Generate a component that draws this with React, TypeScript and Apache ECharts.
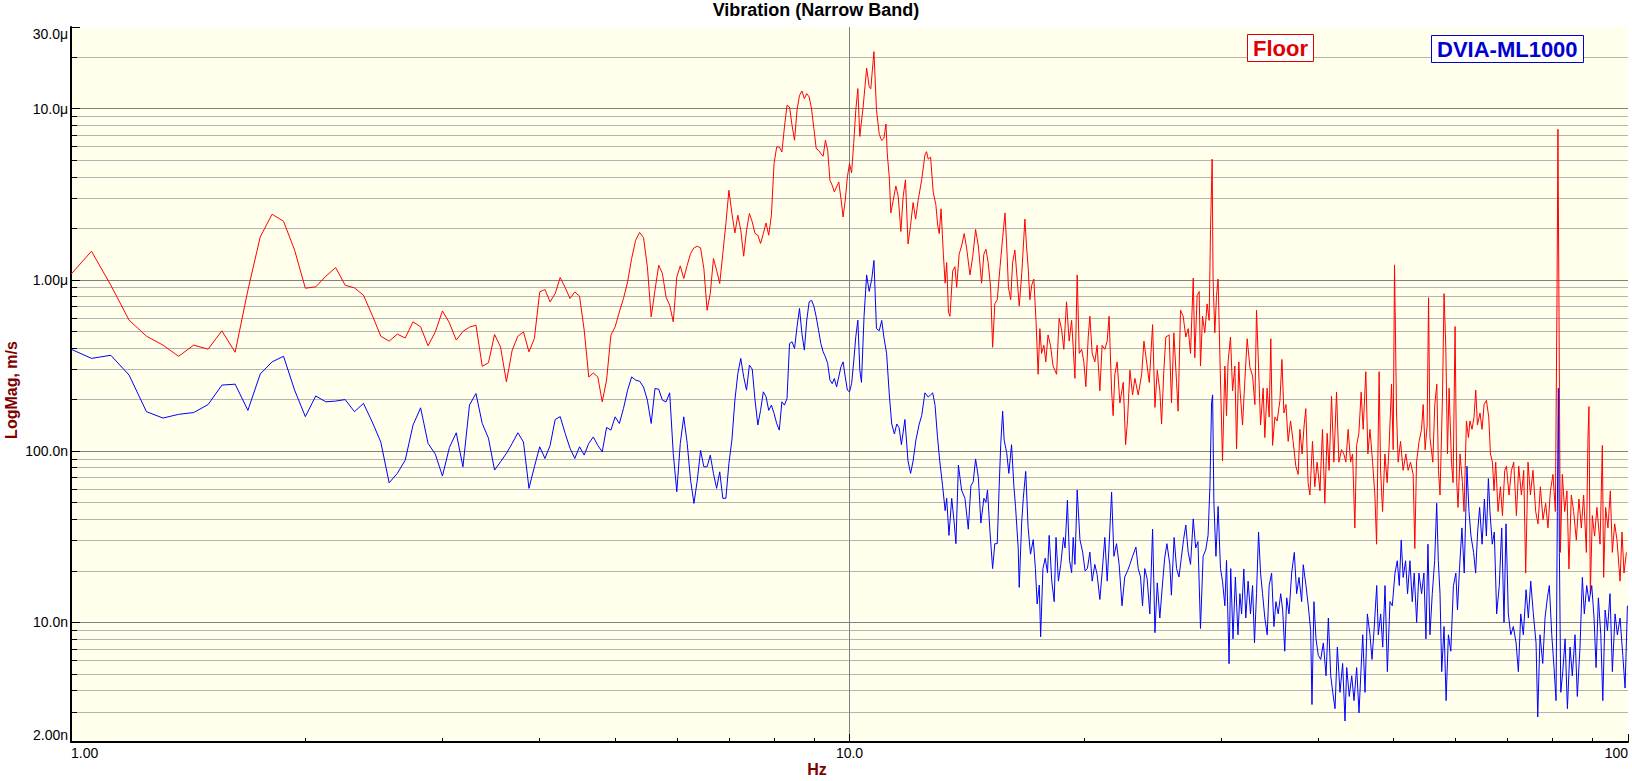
import React, { useEffect, useRef } from 'react';
import * as echarts from 'echarts';

const FONT = "'Liberation Sans', Arial, Helvetica, sans-serif";
const TITLE = 'Vibration (Narrow Band)';
const SERIES_NAMES = ['Floor', 'DVIA-ML1000'];
const X_NAME = 'Hz';
const Y_NAME = 'LogMag, m/s';
const X_RANGE = [1, 100];
const Y_RANGE = [2, 30000]; // nm/s

// Floor spectrum [Hz, nm/s]
const floorLow: [number, number][] = [
  [1.0,1079],[1.0625,1471],[1.125,931],[1.1875,582],[1.25,469],[1.3125,416],[1.375,358],[1.4375,416],[1.5,394],[1.5625,504],[1.625,378],[1.6875,871],[1.75,1782],[1.8125,2418],[1.875,2201],[1.9375,1491],[2.0,894],[2.0625,911],[2.125,1051],[2.1875,1181],[2.25,931],[2.3125,898],[2.375,814],[2.4375,622],[2.5,469],[2.5625,439],[2.625,482],[2.6875,458],[2.75,569],[2.8125,532],[2.875,412],[2.9375,497],[3.0,659],[3.0625,561],[3.125,445],[3.1875,500],[3.25,530],[3.3125,544],[3.375,313],[3.4375,328],[3.5,480],[3.5625,406],[3.625,254],[3.6875,389],[3.75,469],[3.8125,497],[3.875,380],[3.9375,455],[4.0,851],[4.0625,879],[4.125,744],[4.1875,833],[4.25,1033],[4.3125,903],[4.375,779],[4.4375,851],[4.5,803],[4.5625,509],[4.625,271],[4.6875,286],[4.75,271],[4.8125,194],[4.875,260],[4.9375,476],[5.0,532],[5.0625,650],[5.125,779],[5.1875,973],[5.25,1334],[5.3125,1705],[5.375,1891],[5.4375,1768],[5.5,1191],[5.5625,608],[5.625,871],[5.6875,1218],[5.75,1090],[5.8125,795],[5.875,712],[5.9375,569],[6.0,1041],[6.0625,1207],[6.125,1019],[6.1875,1218],[6.25,1426],[6.3125,1538],[6.375,1573],[6.4375,1538],[6.5,1166],[6.5625,665],[6.625,833],[6.6875,1334],[6.75,1139],[6.8125,953],[6.875,1426],[6.9375,2134],[7.0,3339],[7.0625,2441],[7.125,1881],[7.1875,2386],[7.25,1950],[7.3125,1375],[7.375,1950],[7.4375,2441],[7.5,2181],[7.5625,1866],[7.625,1824],[7.6875,1632],[7.75,1866],[7.8125,2151],[7.875,1824],[7.9375,2386],[8.0,4780],[8.0625,5975],[8.125,5975],[8.1875,5585],[8.25,7820],[8.3125,10470],[8.375,10230],[8.4375,8000],[8.5,6540],[8.5625,9790],[8.625,11970],[8.6875,12690],[8.75,11450],[8.8125,12250],[8.875,11700],[8.9375,10010],[9.0,7650],[9.0625,5850],[9.125,5715],[9.1875,5470],[9.25,5275],[9.3125,6540],[9.375,5715],[9.4375,3820],[9.5,3573],[9.5625,3264],[9.625,3490],[9.6875,3734],[9.75,2987],[9.8125,2332],[9.875,2920],[9.9375,3993],[10.0,4780],[10.0625,4215],[10.125,6255],[10.1875,9790],[10.25,13100],
];
const floorMid: [number, number][] = [
  [10.31,6890],[10.41,10170],[10.52,17250],[10.60,13430],[10.65,13060],[10.75,21540],[10.83,9890],[10.92,7085],[11.00,6516],[11.07,6700],[11.14,8140],[11.18,5515],[11.25,3952],[11.30,2462],[11.38,2910],[11.47,3534],[11.55,3075],[11.64,1917],[11.72,3075],[11.80,3842],[11.89,1622],[11.98,2084],[12.07,2829],[12.16,2265],[12.25,2910],[12.38,3842],[12.50,5364],[12.56,5609],[12.62,5073],[12.71,5217],[12.81,3252],[12.91,2752],[12.98,2084],[13.04,1864],[13.11,2603],[13.20,1412],[13.27,957],[13.33,1263],[13.40,648],[13.46,613],[13.57,1130],[13.66,1195],[13.73,905],[13.83,1412],[13.93,1578],[14.04,1864],[14.14,1535],[14.28,1069],[14.40,1373],[14.52,1971],[14.64,1578],[14.78,957],[14.88,1412],[14.97,1509],[15.07,1263],[15.18,905],[15.27,404],[15.37,724],[15.48,766],[15.61,1195],[15.73,1764],[15.84,2462],[15.92,1578],[16.00,905],[16.11,766],[16.20,1263],[16.31,1492],[16.42,1011],[16.52,704],[16.64,1069],[16.80,2265],[16.88,1578],[16.96,1195],[17.05,766],[17.14,930],[17.25,1011],[17.36,580],[17.47,281],[17.56,519],[17.65,372],[17.77,415],[17.87,332],[17.99,477],[18.12,415],[18.26,314],[18.45,281],[18.59,596],[18.72,519],[18.85,393],[19.00,745],[19.15,439],[19.29,580],[19.48,266],[19.61,1069],[19.73,372],[19.87,393],[20.00,332],[20.12,238],[20.26,464],[20.36,613],[20.50,372],[20.66,332],[20.80,415],[20.97,225],[21.11,415],[21.28,393],[21.43,439],[21.55,613],[21.71,225],[21.81,161],[21.92,281],[22.07,332],[22.25,191],[22.47,252],[22.63,109],[22.76,153],[22.92,297],[23.10,213],[23.26,266],[23.49,213],[23.73,281],[23.89,439],[24.08,332],[24.27,252],[24.51,548],[24.68,180],[24.85,297],[25.04,225],[25.17,144],[25.34,297],[25.49,464],[25.74,477],[25.92,191],[26.10,491],[26.31,252],[26.43,171],[26.62,666],[26.83,613],[27.04,464],[27.23,519],[27.42,372],[27.64,1023],[27.77,351],[27.96,809],[28.13,856],[28.24,314],[28.41,613],[28.60,491],[28.80,724],[28.97,580],[29.09,1971],[29.23,5073],[29.31,1011],[29.46,491],[29.61,809],[29.75,1011],[29.91,351],[30.14,87.5],[30.35,314],[30.50,161],[30.64,332],[30.86,464],[31.05,225],[31.26,314],[31.42,103],[31.63,332],
];
const floorHigh: [number, number][] = [
  [31.73,233],[31.98,142],[32.20,260],[32.42,453],[32.69,307],[32.94,275],[33.17,187],[33.33,666],[33.49,363],[33.73,142],[33.99,233],[34.16,120],[34.39,233],[34.60,158],[34.77,453],[34.95,108],[35.19,158],[35.43,150],[35.72,198],[35.93,343],[36.14,167],[36.36,187],[36.60,114],[36.86,150],[37.14,114],[37.44,81.6],[37.70,73.1],[37.89,134],[38.14,96.3],[38.37,142],[38.56,177],[38.82,65.4],[39.03,55.4],[39.33,114],[39.60,61.9],[39.87,86.2],[40.21,58.6],[40.51,134],[40.79,49.6],[41.07,127],[41.31,77.2],[41.61,209],[41.89,86.2],[42.23,221],[42.52,86.2],[42.86,102],[43.15,96.3],[43.41,86.2],[43.70,134],[44.02,86.2],[44.28,96.3],[44.58,35.6],[44.81,108],[45.11,127],[45.42,221],[45.69,134],[46.05,291],[46.33,96.3],[46.62,134],[46.98,86.2],[47.30,55.4],[47.54,28.6],[47.90,291],[48.10,77.2],[48.39,44.4],[48.72,96.3],[49.05,65.4],[49.34,108],[49.69,246],[49.93,102],[50.13,1224],[50.43,167],[50.67,86.2],[51.03,114],[51.42,77.2],[51.84,96.3],[52.19,77.2],[52.56,86.2],[52.97,73.1],[53.23,27.0],[53.50,86.2],[53.91,114],[54.30,134],[54.56,187],[54.88,102],[55.21,142],[55.44,787],[55.67,120],[56.14,86.2],[56.47,187],[56.81,246],[57.09,77.2],[57.35,55.4],[57.77,209],[58.04,831],[58.34,405],[58.63,96.3],[58.91,233],[59.33,86.2],[59.61,65.4],[59.96,534],[60.26,65.4],[60.49,46.9],[60.85,96.3],[61.28,65.4],[61.57,44.4],[62.01,150],[62.38,120],[62.66,150],[63.04,134],[63.42,158],[63.74,227],[64.06,142],[64.55,167],[64.94,134],[65.33,187],[65.79,198],[66.24,158],[66.57,96.3],[66.97,86.2],[67.28,58.6],[67.62,86.2],[68.09,44.4],[68.57,61.9],[68.98,42.0],[69.45,77.2],[69.80,81.6],[70.34,55.4],[70.84,77.2],[71.32,86.2],[71.89,42.0],[72.38,81.6],[72.96,55.4],[73.46,77.2],[73.89,19.4],[74.40,86.2],[74.93,55.4],[75.50,77.2],[76.11,44.4],[76.63,37.6],[77.17,61.9],[77.77,39.8],[78.39,49.6],[78.92,35.6],[79.49,58.6],[80.10,73.1],[80.67,44.4],[81.05,704],[81.29,7586],[81.53,704],[81.87,25.6],[82.35,73.1],[82.92,44.4],[83.48,58.6],[83.97,20.5],[84.57,55.4],[85.15,44.4],[85.83,30.2],[86.49,52.5],[87.11,35.6],[87.70,55.4],[88.41,25.6],[88.83,120],[89.09,182],[89.46,14.7],[89.99,42.0],[90.60,31.9],[91.22,46.9],[92.07,28.6],[92.69,108],[93.05,18.3],[93.60,46.9],[94.24,35.6],[94.91,58.6],[95.47,25.6],[96.14,37.6],[96.80,30.2],[97.68,17.4],[98.24,33.7],[98.82,19.4],[99.53,25.6],
];

// DVIA-ML1000 spectrum [Hz, nm/s]
const dviaLow: [number, number][] = [
  [1.0,394],[1.0625,348],[1.125,363],[1.1875,278],[1.25,170],[1.3125,156],[1.375,164],[1.4375,168],[1.5,187],[1.5625,243],[1.625,246],[1.6875,173],[1.75,282],[1.8125,332],[1.875,358],[1.9375,227],[2.0,159],[2.0625,210],[2.125,194],[2.1875,196],[2.25,200],[2.3125,170],[2.375,190],[2.4375,148],[2.5,113],[2.5625,65.3],[2.625,74.1],[2.6875,88.6],[2.75,142],[2.8125,179],[2.875,111],[2.9375,96],[3.0,71.5],[3.0625,105],[3.125,128],[3.1875,81],[3.25,186],[3.3125,217],[3.375,145],[3.4375,119],[3.5,77.5],[3.5625,86.6],[3.625,97],[3.6875,111],[3.75,128],[3.8125,113],[3.875,60.6],[3.9375,81],[4.0,106],[4.0625,90.6],[4.125,108],[4.1875,153],[4.25,159],[4.3125,127],[4.375,104],[4.4375,90.6],[4.5,106],[4.5625,94.8],[4.625,111],[4.6875,121],[4.75,108],[4.8125,99],[4.875,137.5],[4.9375,132.6],[5.0,158.6],[5.0625,145],[5.125,177.5],[5.1875,227],[5.25,271],[5.3125,260],[5.375,256],[5.4375,237],[5.5,198.5],[5.5625,145],[5.625,232],[5.6875,230],[5.75,198.5],[5.8125,194],[5.875,219],[5.9375,97],[6.0,57.9],[6.0625,111],[6.125,158.6],[6.1875,111],[6.25,67.7],[6.3125,49.5],[6.375,67.7],[6.4375,101],[6.5,81],[6.5625,81],[6.625,94.8],[6.6875,74],[6.75,60.6],[6.8125,75.7],[6.875,53],[6.9375,53],[7.0,84.8],[7.0625,116],[7.125,198.5],[7.1875,284],[7.25,348],[7.3125,271.5],[7.375,227],[7.4375,318],[7.5,301],[7.5625,198.5],[7.625,142],[7.6875,173],[7.75,222],[7.8125,207.5],[7.875,173],[7.9375,185.6],[8.0,166],[8.0625,145],[8.125,132.6],[8.1875,194],[8.25,185.6],[8.3125,203],[8.375,425],[8.4375,435],[8.5,398],[8.5625,532],[8.625,681],[8.6875,486],[8.75,389],[8.8125,582],[8.875,744],[8.9375,761],[9.0,702],[9.0625,608],[9.125,509],[9.1875,425],[9.25,380],[9.3125,355],[9.375,325],[9.4375,260],[9.5,248],[9.5625,265.6],[9.625,237],[9.6875,271.5],[9.75,310.5],[9.8125,332],[9.875,271.5],[9.9375,227],[10.0,222],[10.0625,248],[10.125,332],[10.1875,465],[10.25,582],
];
const dviaMid: [number, number][] = [
  [10.31,297],[10.36,252],[10.44,613],[10.52,1069],[10.60,856],[10.68,1011],[10.75,1299],[10.83,519],[10.92,505],[11.00,580],[11.07,464],[11.16,372],[11.25,213],[11.33,144],[11.42,126],[11.50,144],[11.58,137],[11.66,109],[11.78,153],[11.89,87.5],[11.98,74.1],[12.07,87.5],[12.17,116],[12.29,144],[12.38,161],[12.50,219],[12.62,207],[12.71,213],[12.79,219],[12.88,185],[12.97,122],[13.06,87.5],[13.17,62.7],[13.27,44.9],[13.33,53.0],[13.42,32.2],[13.53,53.0],[13.63,38.0],[13.70,28.8],[13.80,82.8],[13.93,59.3],[14.07,53.0],[14.21,35.0],[14.32,62.7],[14.42,66.3],[14.52,90.0],[14.64,70.0],[14.75,38.0],[14.88,53.0],[14.97,50.2],[15.04,59.3],[15.15,34.0],[15.27,20.6],[15.37,28.8],[15.48,28.8],[15.57,62.7],[15.64,109],[15.73,171],[15.80,116],[15.92,97.8],[16.02,74.1],[16.15,109],[16.26,62.7],[16.34,47.5],[16.47,27.2],[16.52,16.0],[16.64,38.0],[16.72,53.0],[16.84,76.1],[16.96,35.9],[17.08,25.0],[17.22,30.4],[17.33,20.6],[17.42,12.8],[17.53,16.5],[17.60,8.23],[17.72,20.6],[17.84,23.7],[17.96,19.5],[18.05,32.2],[18.19,17.4],[18.32,13.2],[18.42,31.3],[18.55,17.4],[18.68,21.8],[18.83,31.3],[18.92,27.2],[19.05,51.6],[19.17,23.0],[19.29,19.5],[19.38,31.3],[19.48,21.8],[19.61,59.3],[19.77,30.4],[19.93,25.7],[20.07,20.0],[20.21,20.6],[20.36,25.7],[20.50,17.4],[20.66,21.8],[20.80,19.0],[20.97,13.6],[21.11,19.5],[21.28,31.3],[21.43,17.4],[21.55,28.0],[21.71,57.7],[21.86,24.3],[22.03,28.8],[22.20,21.8],[22.39,12.5],[22.57,18.4],[22.76,20.0],[22.92,21.8],[23.10,24.3],[23.33,27.5],[23.49,20.6],[23.65,18.4],[23.79,12.5],[23.95,20.6],[24.12,17.9],[24.31,11.2],[24.51,35.0],[24.68,8.70],[24.85,17.0],[25.04,10.6],[25.23,16.5],[25.40,23.7],[25.57,28.8],[25.79,21.8],[25.91,14.4],[26.12,31.3],[26.31,20.6],[26.50,18.4],[26.68,23.7],[26.86,30.4],[27.04,37.0],[27.23,25.7],[27.42,21.8],[27.64,40.2],[27.84,27.2],[28.03,29.6],[28.24,9.20],[28.46,24.3],[28.68,26.5],[28.88,32.2],[29.04,62.7],[29.18,191],[29.27,213],[29.38,50.2],[29.56,24.3],[29.75,47.5],[29.96,20.6],[30.14,17.4],[30.35,12.5],[30.50,23.0],[30.73,5.73],[30.88,20.6],[31.09,8.00],[31.31,18.4],[31.55,8.46],
];
const dviaHigh: [number, number][] = [
  [31.73,14.7],[31.89,11.2],[32.10,20.5],[32.29,10.6],[32.51,17.4],[32.74,11.2],[32.94,16.4],[33.13,7.58],[33.33,14.7],[33.53,33.7],[33.73,19.4],[33.93,14.7],[34.16,10.6],[34.40,8.46],[34.60,16.4],[34.85,19.4],[35.09,9.45],[35.30,13.2],[35.54,11.2],[35.80,14.7],[36.01,11.8],[36.23,6.78],[36.44,13.9],[36.69,11.2],[36.98,19.4],[37.27,25.6],[37.53,14.7],[37.79,18.3],[38.09,13.2],[38.27,21.7],[38.58,16.4],[38.84,12.5],[39.12,8.94],[39.27,3.31],[39.50,13.2],[39.74,8.01],[40.01,6.42],[40.30,6.07],[40.61,7.58],[40.94,4.87],[41.22,10.6],[41.51,4.87],[41.76,3.90],[42.04,3.13],[42.33,7.17],[42.66,3.90],[43.00,5.75],[43.30,2.65],[43.52,5.44],[43.85,3.69],[44.17,4.87],[44.47,3.49],[44.82,5.44],[45.13,2.96],[45.36,4.87],[45.63,8.46],[45.94,3.90],[46.26,11.2],[46.62,8.46],[46.90,6.07],[47.18,8.94],[47.56,16.4],[47.78,8.46],[48.12,11.2],[48.41,7.17],[48.74,16.4],[49.08,5.15],[49.46,13.2],[49.80,12.5],[50.20,19.4],[50.54,22.9],[50.84,16.4],[51.13,30.2],[51.43,18.3],[51.80,22.9],[52.10,14.7],[52.47,22.9],[52.83,13.2],[53.14,19.4],[53.52,9.99],[53.88,19.4],[54.31,14.7],[54.68,19.4],[55.01,8.01],[55.34,28.6],[55.67,8.46],[56.05,14.7],[56.45,22.9],[56.79,49.6],[57.06,22.9],[57.35,14.7],[57.64,5.15],[58.04,9.45],[58.39,3.49],[58.79,8.46],[59.21,6.78],[59.67,16.4],[60.10,19.4],[60.39,11.8],[60.75,20.5],[61.19,35.6],[61.61,19.4],[62.11,81.6],[62.48,44.4],[62.85,31.9],[63.34,25.6],[63.72,19.4],[64.10,33.7],[64.48,46.9],[64.95,28.6],[65.39,52.5],[65.78,31.9],[66.17,69.1],[66.48,44.4],[66.94,28.6],[67.34,33.7],[67.81,11.2],[68.34,16.4],[68.83,35.6],[69.30,9.99],[69.71,37.6],[70.19,11.2],[70.70,8.46],[71.24,9.45],[71.82,7.58],[72.31,5.15],[72.82,11.2],[73.38,8.46],[73.97,15.5],[74.48,10.6],[75.00,17.4],[75.58,11.2],[76.19,7.58],[76.57,2.80],[77.09,8.46],[77.71,5.75],[78.24,10.6],[78.78,13.9],[79.24,16.4],[79.81,8.46],[80.35,5.44],[80.83,3.49],[81.14,44.4],[81.38,233],[81.63,25.6],[81.97,3.90],[82.45,5.15],[83.02,8.01],[83.59,3.13],[84.24,7.17],[84.82,4.87],[85.50,8.46],[86.08,3.69],[86.77,7.17],[87.37,18.3],[87.88,11.2],[88.51,16.4],[89.12,13.2],[89.83,16.4],[90.45,10.6],[90.99,5.44],[91.61,13.9],[92.27,8.46],[92.82,3.49],[93.46,11.8],[94.10,8.94],[94.82,14.7],[95.48,5.15],[96.25,11.2],[96.91,8.46],[97.68,10.6],[98.47,6.42],[99.14,4.13],[99.83,12.5],
];

const floorData = [...floorLow, ...floorMid, ...floorHigh];
const dviaData = [...dviaLow, ...dviaMid, ...dviaHigh];

function fmtY(v: number): string {
  let m = v;
  let u = 'n';
  if (v >= 999.5) { m = v / 1000; u = 'μ'; }
  m = Math.round(m * 1000) / 1000;
  return (m >= 10 ? m.toFixed(1) : m.toFixed(2)) + u;
}
function fmtX(v: number): string {
  const m = Math.round(v * 1000) / 1000;
  return m < 10 ? m.toFixed(2) : m < 100 ? m.toFixed(1) : m.toFixed(0);
}

export default function App() {
  const ref = useRef<HTMLDivElement>(null);
  useEffect(() => {
    document.body.style.margin = '0';
    if (!ref.current) return;
    const chart = echarts.init(ref.current, null, { renderer: 'svg' });
    const labelStyle = { color: '#000', fontSize: 14, fontFamily: FONT };
    chart.setOption({
      animation: false,
      backgroundColor: '#ffffff',
      title: [
        { text: TITLE, left: 'center', top: 1, padding: 0, textStyle: { color: '#000', fontSize: 18, fontWeight: 'bold', fontFamily: FONT } },
        { text: SERIES_NAMES[0], left: 1247, top: 34, padding: [3, 6], borderColor: '#e00000', borderWidth: 1, backgroundColor: '#ffffff', textStyle: { color: '#e00000', fontSize: 22, fontWeight: 'bold', fontFamily: FONT } },
        { text: SERIES_NAMES[1], left: 1431, top: 35, padding: [3, 6], borderColor: '#0000d0', borderWidth: 1, backgroundColor: '#ffffff', textStyle: { color: '#0000d0', fontSize: 22, fontWeight: 'bold', fontFamily: FONT } },
      ],
      grid: { left: 71, right: 4, top: 27, bottom: 39, show: true, backgroundColor: '#ffffec', borderWidth: 0 },
      xAxis: {
        type: 'log', logBase: 10, min: X_RANGE[0], max: X_RANGE[1],
        axisLine: { show: true, onZero: false, lineStyle: { color: '#000', width: 2 } },
        axisTick: { show: true, inside: true, length: 8, lineStyle: { color: '#000', width: 1 } },
        minorTick: { show: true, splitNumber: 9, length: 4, lineStyle: { color: '#000', width: 1 } },
        axisLabel: { ...labelStyle, formatter: fmtX, margin: 4, showMinLabel: true, showMaxLabel: true, alignMinLabel: 'left', alignMaxLabel: 'right' },
        splitLine: { show: true, showMinLine: false, showMaxLine: false, lineStyle: { color: '#808080', width: 1 } },
        minorSplitLine: { show: false },
      },
      yAxis: {
        type: 'log', logBase: 10, min: Y_RANGE[0], max: Y_RANGE[1],
        axisLine: { show: true, onZero: false, lineStyle: { color: '#000', width: 2 } },
        axisTick: { show: true, inside: true, length: 9, lineStyle: { color: '#000', width: 1 } },
        minorTick: { show: true, splitNumber: 9, length: 6, lineStyle: { color: '#000', width: 1 } },
        axisLabel: { ...labelStyle, formatter: fmtY, margin: 3, showMinLabel: true, showMaxLabel: true, verticalAlignMinLabel: 'bottom', verticalAlignMaxLabel: 'top' },
        splitLine: { show: true, showMinLine: false, showMaxLine: false, lineStyle: { color: '#808080', width: 1 } },
        minorSplitLine: { show: true, lineStyle: { color: '#b4b4b4', width: 1 } },
      },
      graphic: [
        { type: 'text', x: 11, y: 390, rotation: Math.PI / 2, style: { text: Y_NAME, fill: '#800000', font: `bold 16px ${FONT}`, align: 'center', verticalAlign: 'middle', textAlign: 'center', textVerticalAlign: 'middle' } },
        { type: 'text', x: 817, y: 769, style: { text: X_NAME, fill: '#800000', font: `bold 16px ${FONT}`, align: 'center', verticalAlign: 'middle', textAlign: 'center', textVerticalAlign: 'middle' } },
      ],
      series: [
        { name: SERIES_NAMES[0], type: 'line', data: floorData, symbol: 'none', showSymbol: false, silent: true, z: 2, lineStyle: { color: '#ff0000', width: 1 }, itemStyle: { color: '#ff0000' } },
        { name: SERIES_NAMES[1], type: 'line', data: dviaData, symbol: 'none', showSymbol: false, silent: true, z: 3, lineStyle: { color: '#0000ff', width: 1 }, itemStyle: { color: '#0000ff' } },
      ],
    });
    return () => chart.dispose();
  }, []);
  return <div ref={ref} style={{ position: 'absolute', left: 0, top: 0, width: 1632, height: 781 }} />;
}
